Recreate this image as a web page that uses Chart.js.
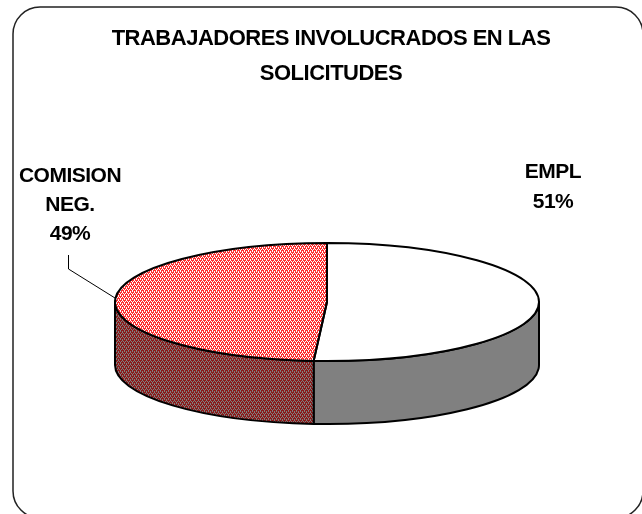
<!DOCTYPE html>
<html><head><meta charset="utf-8">
<style>html,body{margin:0;padding:0;background:#fff}canvas{display:block}</style>
<script src="https://cdn.jsdelivr.net/npm/chart.js@4"></script></head>
<body><canvas id="c" width="642" height="514"></canvas>
<script>
const categories = ['EMPL', 'COMISION NEG.'];
const labelLines = [['EMPL'], ['COMISION', 'NEG.']];
const values = [51, 49];
const titleLines = ['TRABAJADORES INVOLUCRADOS EN LAS', 'SOLICITUDES'];

const CX = 327, CY = 302, RX = 212, RY = 59, DEPTH = 63, SQUASH = RY / RX;

function makePattern(a, b, inverse) {
  const t = document.createElement('canvas'); t.width = 4; t.height = 4;
  const g = t.getContext('2d');
  const m = ['aaba', 'abab', 'baaa', 'baba'];
  m.forEach((row, y) => [...row].forEach((v, x) => {
    g.fillStyle = v === 'a' ? a : b; g.fillRect(x, y, 1, 1);
  }));
  const p = document.createElement('canvas').getContext('2d').createPattern(t, 'repeat');
  if (inverse) p.setTransform(new DOMMatrix().scale(1, 1 / SQUASH));
  return p;
}
const topFills = ['#ffffff', makePattern('#ff3030', '#ffffff', true)];
const wallFills = ['#808080', makePattern('#8a1a1a', '#808080', false)];

function applyTilt(ctx, arc) {
  ctx.translate(CX, CY); ctx.scale(1, SQUASH); ctx.translate(-arc.x, -arc.y);
}

const pie3d = {
  id: 'pie3d',
  beforeDraw(chart) {
    const ctx = chart.ctx;
    ctx.save();
    ctx.fillStyle = '#fff'; ctx.fillRect(0, 0, chart.width, chart.height);
    ctx.strokeStyle = '#222'; ctx.lineWidth = 1.5;
    ctx.beginPath(); ctx.roundRect(13, 7, 630, 511, 27); ctx.stroke();
    ctx.restore();
    ctx.letterSpacing = '-0.5px';
  },
  beforeDatasetsDraw(chart) {
    const ctx = chart.ctx;
    const arcs = chart.getDatasetMeta(0).data;
    ctx.save();
    ctx.lineJoin = 'round';
    arcs.forEach((arc, i) => {
      const s = Math.max(arc.startAngle, 0);
      const e = Math.min(arc.endAngle, Math.PI);
      if (e <= s) return;
      ctx.beginPath();
      ctx.ellipse(CX, CY, arc.outerRadius, arc.outerRadius * SQUASH, 0, s, e);
      ctx.ellipse(CX, CY + DEPTH, arc.outerRadius, arc.outerRadius * SQUASH, 0, e, s, true);
      ctx.closePath();
      ctx.fillStyle = wallFills[i]; ctx.fill();
      ctx.strokeStyle = '#000'; ctx.lineWidth = 2; ctx.stroke();
    });
    ctx.restore();
    ctx.save();
    ctx.imageSmoothingEnabled = false;
    applyTilt(ctx, arcs[0]);
  },
  afterDatasetsDraw(chart) {
    const ctx = chart.ctx;
    ctx.restore();
    const arcs = chart.getDatasetMeta(0).data;
    ctx.save();
    ctx.strokeStyle = '#000'; ctx.lineWidth = 2; ctx.lineJoin = 'round';
    arcs.forEach(arc => {
      ctx.save();
      applyTilt(ctx, arc);
      ctx.beginPath();
      ctx.moveTo(arc.x, arc.y);
      ctx.arc(arc.x, arc.y, arc.outerRadius, arc.startAngle, arc.endAngle);
      ctx.closePath();
      ctx.restore();
      ctx.stroke();
    });
    // leader line
    ctx.lineWidth = 1; ctx.strokeStyle = '#000';
    ctx.beginPath(); ctx.moveTo(68.5, 255); ctx.lineTo(68.5, 269); ctx.lineTo(115, 298); ctx.stroke();
    // data labels
    ctx.fillStyle = '#000'; ctx.textAlign = 'center'; ctx.textBaseline = 'alphabetic';
    ctx.font = 'bold 21px "Liberation Sans", Arial, sans-serif';
    const total = values.reduce((a, b) => a + b, 0);
    const anchors = [[553, [178, 208]], [70, [182, 211, 240]]];
    labelLines.forEach((lines, i) => {
      const all = lines.concat(Math.round(values[i] / total * 100) + '%');
      all.forEach((t, k) => ctx.fillText(t, anchors[i][0], anchors[i][1][k]));
    });
    ctx.restore();
  }
};

new Chart(document.getElementById('c'), {
  type: 'pie',
  data: { labels: categories, datasets: [{
    data: values, backgroundColor: topFills, borderWidth: 0, clip: false, radius: RX
  }] },
  options: {
    responsive: false, animation: false,
    layout: { padding: { left: 20, top: 21 } },
    plugins: {
      legend: { display: false }, tooltip: { enabled: false },
      title: { display: true, text: titleLines, color: '#000',
        font: { family: '"Liberation Sans", Arial, sans-serif', size: 22, weight: 'bold', lineHeight: 1.6 },
        padding: { top: 0, bottom: 10 } }
    }
  },
  plugins: [pie3d]
});
</script></body></html>
